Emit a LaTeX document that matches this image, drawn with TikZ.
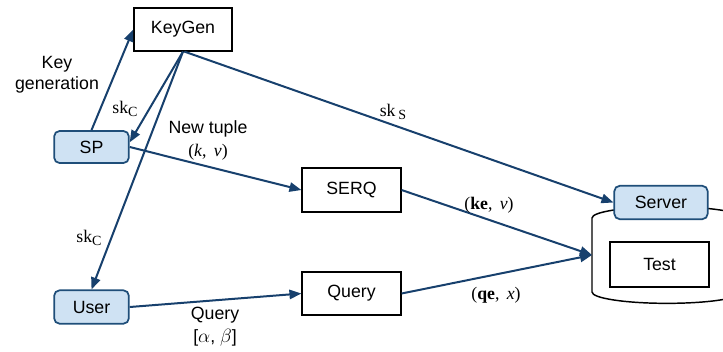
\documentclass[tikz,border=0pt]{standalone}
\usepackage{fontspec}
\setmainfont{Liberation Sans}
\newfontfamily\tms{Liberation Serif}
\usetikzlibrary{arrows.meta}
\definecolor{arr}{HTML}{17406D}
\definecolor{bfill}{HTML}{CFE2F3}
\definecolor{bdraw}{HTML}{1F4E79}
\newcommand{\lsub}[1]{\raisebox{-0.35ex}{\fontsize{10.5}{10.5}\selectfont #1}}
\tikzset{
  every node/.style={font=\fontsize{13.3}{15.5}\selectfont, inner sep=0pt},
  plainbox/.style={draw=black, line width=1.1pt, fill=white, minimum width=74pt, minimum height=33pt},
  bluebox/.style={draw=bdraw, line width=1.3pt, fill=bfill, rounded corners=4pt, minimum width=56pt, minimum height=24pt},
  conn/.style={draw=arr, line width=1.5pt, -{Triangle[length=9pt,width=7pt]}},
  lbl/.style={align=center},
  ser/.style={font=\fontsize{13.3}{15.5}\selectfont\tms}
}
\begin{document}
\begin{tikzpicture}[x=0.75pt,y=-0.75pt]
\useasboundingbox (0,0) rectangle (723,351);
\clip (0,0) rectangle (723,351);
% cylinder
\draw[line width=1.1pt, fill=white] (592,218) -- (592,292)
  arc[start angle=180,end angle=360,x radius=56.25pt,y radius=8.5pt] -- (742,218)
  arc[start angle=0,end angle=180,x radius=56.25pt,y radius=8.5pt] -- cycle;
\coordinate (dbin) at (592,255);
% nodes
\node[plainbox, minimum width=73.5pt, minimum height=32pt] (keygen) at (183,29.5) {KeyGen};
\node[bluebox] (sp) at (91.5,147) {SP};
\node[bluebox, minimum height=25pt] (user) at (91.5,307) {User};
\node[plainbox] (serq) at (351.5,190) {SERQ};
\node[plainbox, minimum height=32pt] (query) at (351.5,293.5) {Query};
\node[bluebox, minimum width=70pt, minimum height=25pt] (server) at (661,202.5) {Server};
\node[plainbox, minimum height=33.5pt] (test) at (659.5,264.5) {Test};
% connectors
\draw[conn] (sp.north) -- (keygen.west);
\draw[conn] (keygen.south) -- (sp.7);
\draw[conn] (keygen.south) -- (user.north);
\draw[conn] ([xshift=1pt]keygen.south) -- (server.west);
\draw[conn] (sp.east) -- (serq.west);
\draw[conn] (serq.east) -- (dbin);
\draw[conn] (user.east) -- (query.west);
\draw[conn] (query.east) -- (dbin);
% labels
\node[lbl] (lkey) at (57,75) {Key\\generation};
\node[ser] (lskc1) at (125,109) {sk\lsub{C}};
\node[lbl] (lnew) at (208,129) {New tuple};
\node[ser] (lkv) at (208,152) {(\textit{k}, \,\textit{v})};
\node[ser] (lsks) at (393,112) {sk\,\lsub{S}};
\node[ser] (lskc2) at (89,238) {sk\lsub{C}};
\node[ser] (lke) at (489,205) {(\textbf{ke}, \,\textit{v})};
\node[ser] (lqe) at (496,295) {(\textbf{qe}, \,\textit{x})};
\node[lbl] (lq) at (215,315) {Query};
\node (lab) at (215,338) {[$\alpha$, $\beta$]};
\end{tikzpicture}
\end{document}
